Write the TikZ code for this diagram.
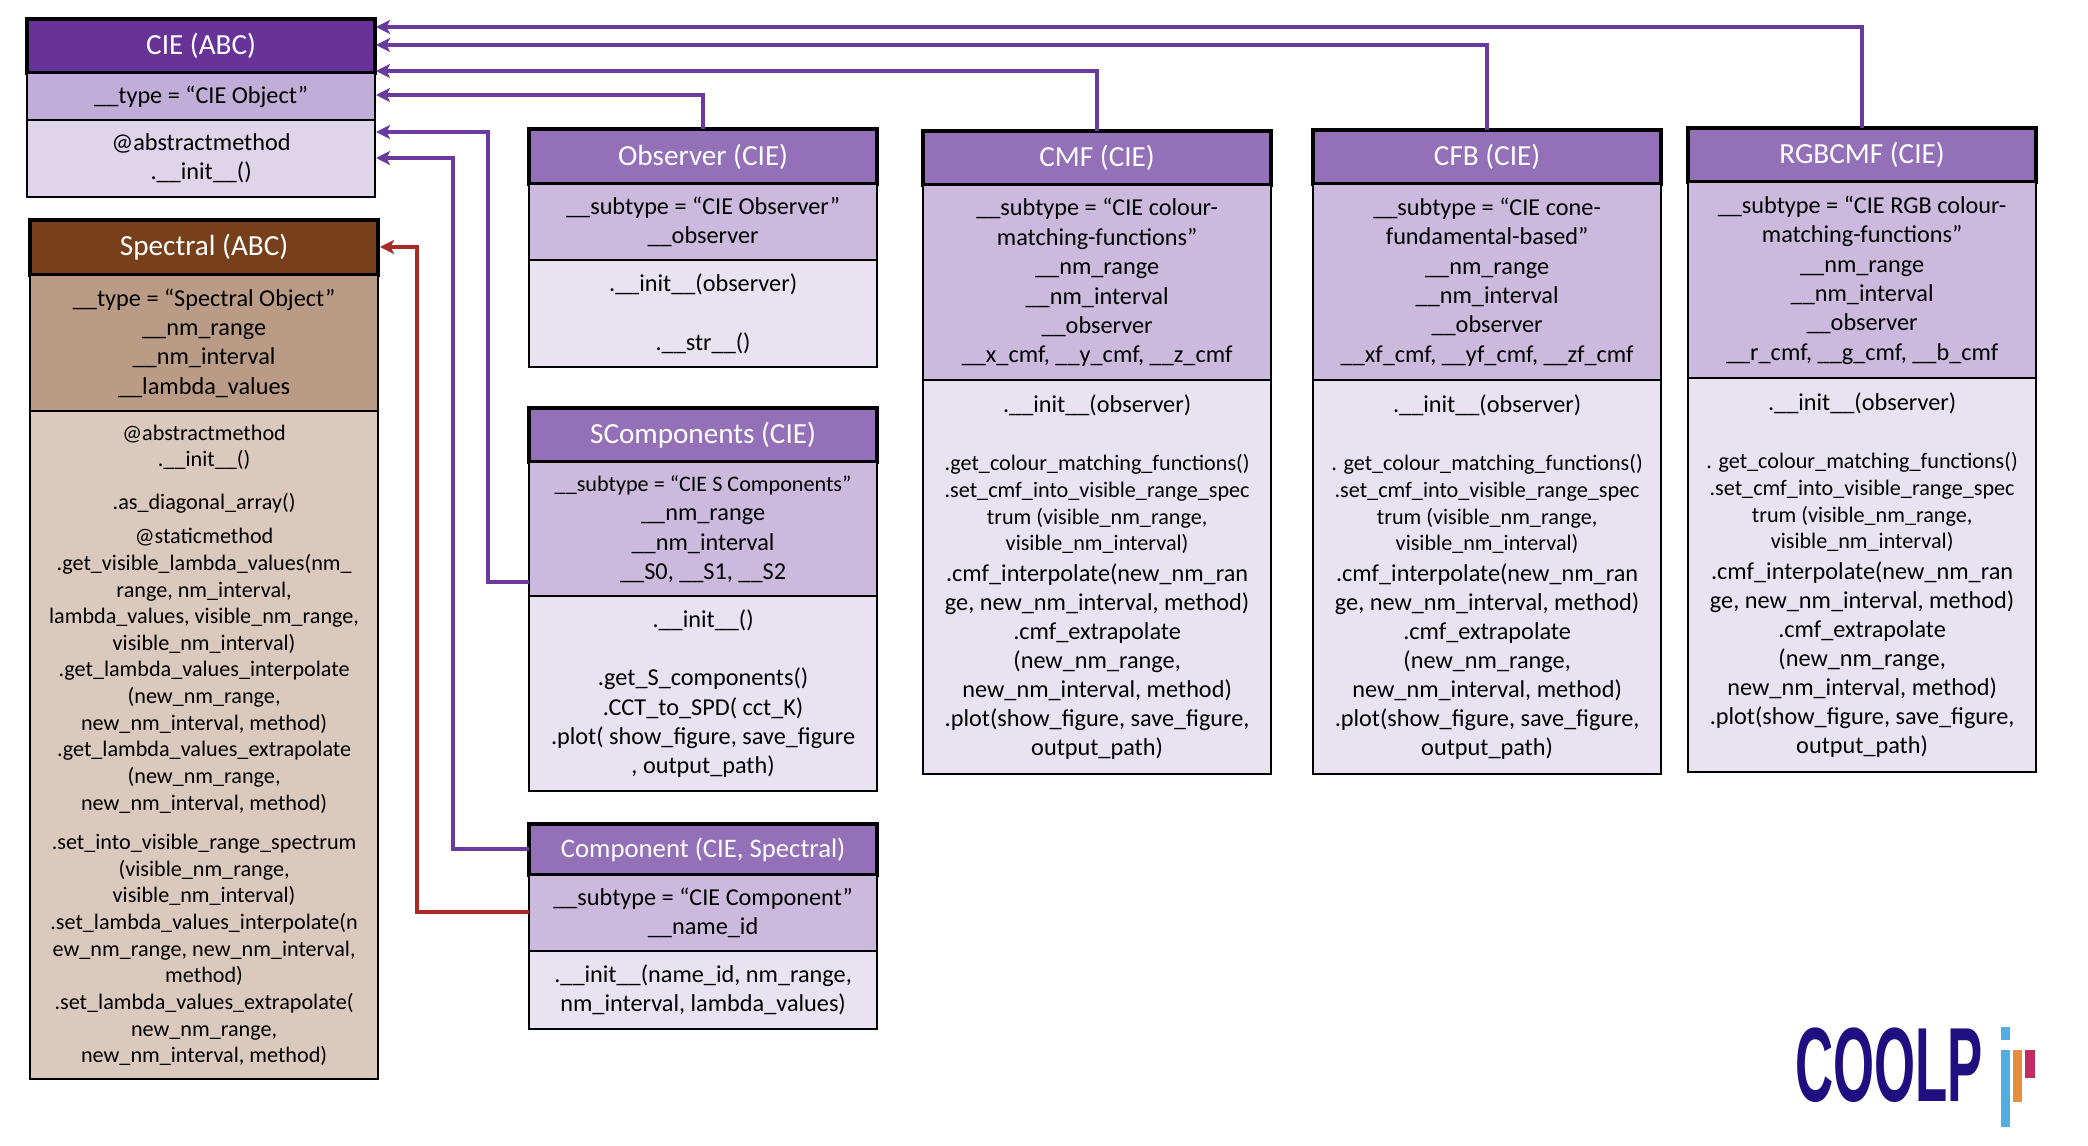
\documentclass[tikz,border=0pt]{standalone}
\usepackage{fontspec}
\usepackage{xcolor}
\usetikzlibrary{arrows.meta}
\setmainfont{Carlito}
\newfontfamily\logofont[FakeStretch=0.5]{Liberation Sans}
\definecolor{ciedark}{HTML}{673399}
\definecolor{ciemid}{HTML}{C1AED8}
\definecolor{cielight}{HTML}{DFD5EA}
\definecolor{subdark}{HTML}{9370B7}
\definecolor{submid}{HTML}{CBBADD}
\definecolor{sublight}{HTML}{E8E2F1}
\definecolor{specdark}{HTML}{78401A}
\definecolor{specmid}{HTML}{BA9C86}
\definecolor{speclight}{HTML}{DAC9BC}
\definecolor{linkpurple}{HTML}{6B3A9E}
\definecolor{linkred}{HTML}{A82B24}
\definecolor{logonavy}{HTML}{1F0F80}
\definecolor{logoblue}{HTML}{52AEE0}
\definecolor{logoorange}{HTML}{E58E3C}
\definecolor{logopink}{HTML}{C22C63}
\tikzset{
    compart/.style={rectangle,draw=black,line width=0.6pt,anchor=north west,inner sep=0pt,outer sep=0pt,
        minimum width=3.48cm,align=center,font=\fontsize{6.9}{8.35}\selectfont},
    headbox/.style={compart,line width=1pt,text=white,font=\fontsize{8.3}{10}\selectfont},
    cmfbox/.style={compart,fill=sublight,minimum height=3.94cm,font=\fontsize{6.9}{8.27}\selectfont},
    cielink/.style={draw=linkpurple,line width=1.15pt,->},
    speclink/.style={draw=linkred,line width=1.15pt,->},
}
\newcommand{\smalltxt}{\fontsize{6.3}{7.57}\selectfont}
\newcommand{\cmfmethods}[1]{.\_\_init\_\_(observer)\\[8.4pt]
    \smalltxt #1get\_colour\_matching\_functions()\\[-0.7pt]
    \smalltxt .set\_cmf\_into\_visible\_range\_spec\\[-0.7pt]
    \smalltxt trum (visible\_nm\_range,\\[-0.7pt]
    \smalltxt visible\_nm\_interval)\\[0.4pt]
    .cmf\_interpolate(new\_nm\_ran\\
    ge, new\_nm\_interval, method)\\
    .cmf\_extrapolate\\
    (new\_nm\_range,\\
    new\_nm\_interval, method)\\
    .plot(show\_figure, save\_figure,\\
    output\_path)}
\begin{document}
\begin{tikzpicture}[x=0.01cm,y=-0.01cm,>={Stealth[length=4pt,width=4pt,inset=1pt]}]
    \useasboundingbox (0,0) rectangle (2088,1146);
    % base classes
    \node[headbox,fill=ciedark,minimum height=0.54cm] (ciehead) at (27,19) {CIE (ABC)};
    \node[compart,fill=ciemid,minimum height=0.47cm] (ciesec) at (27,73) {\_\_type = “CIE Object”};
    \node[compart,fill=cielight,minimum height=0.77cm] (ciebody) at (27,120) {@abstractmethod\\.\_\_init\_\_()};
    \node[headbox,fill=specdark,minimum height=0.55cm] (spechead) at (30,220) {Spectral (ABC)};
    \node[compart,fill=specmid,minimum height=1.36cm] (specsec) at (30,275)
        {\_\_type = “Spectral Object”\\\_\_nm\_range\\\_\_nm\_interval\\\_\_lambda\_values};
    \node[compart,fill=speclight,minimum height=6.68cm,font=\fontsize{6.3}{7.57}\selectfont] (specbody) at (30,411)
        {@abstractmethod\\.\_\_init\_\_()\\[4.5pt]
        .as\_diagonal\_array()\\[2.3pt]
        @staticmethod\\
        .get\_visible\_lambda\_values(nm\_\\
        range, nm\_interval,\\
        lambda\_values, visible\_nm\_range,\\
        visible\_nm\_interval)\\
        .get\_lambda\_values\_interpolate\\
        (new\_nm\_range,\\
        new\_nm\_interval, method)\\
        .get\_lambda\_values\_extrapolate\\
        (new\_nm\_range,\\
        new\_nm\_interval, method)\\[3.7pt]
        .set\_into\_visible\_range\_spectrum\\
        (visible\_nm\_range,\\
        visible\_nm\_interval)\\
        .set\_lambda\_values\_interpolate(n\\
        ew\_nm\_range, new\_nm\_interval,\\
        method)\\
        .set\_lambda\_values\_extrapolate(\\
        new\_nm\_range,\\
        new\_nm\_interval, method)};
    % middle column
    \node[headbox,fill=subdark,minimum height=0.55cm] (obshead) at (529,129) {Observer (CIE)};
    \node[compart,fill=submid,minimum height=0.76cm] (obssec) at (529,184) {\_\_subtype = “CIE Observer”\\\_\_observer};
    \node[compart,fill=sublight,minimum height=1.07cm] (obsbody) at (529,260) {.\_\_init\_\_(observer)\\[\baselineskip].\_\_str\_\_()};
    \node[headbox,fill=subdark,minimum height=0.54cm] (scomphead) at (529,408) {SComponents (CIE)};
    \node[compart,fill=submid,minimum height=1.34cm] (scompsec) at (529,462)
        {{\fontsize{6.3}{8.2}\selectfont\_\_subtype = “CIE S Components”}\\\_\_nm\_range\\\_\_nm\_interval\\\_\_S0, \_\_S1, \_\_S2};
    \node[compart,fill=sublight,minimum height=1.95cm] (scompbody) at (529,596)
        {.\_\_init\_\_()\\[\baselineskip].get\_S\_components()\\.CCT\_to\_SPD( cct\_K)\\.plot( show\_figure, save\_figure\\, output\_path)};
    \node[headbox,fill=subdark,minimum height=0.51cm,font=\fontsize{7.6}{9}\selectfont] (comphead) at (529,824) {Component (CIE, Spectral)};
    \node[compart,fill=submid,minimum height=0.76cm] (compsec) at (529,875) {\_\_subtype = “CIE Component”\\\_\_name\_id};
    \node[compart,fill=sublight,minimum height=0.78cm] (compbody) at (529,951) {.\_\_init\_\_(name\_id, nm\_range,\\nm\_interval, lambda\_values)};
    % colour matching classes
    \node[headbox,fill=subdark,minimum height=0.54cm] (cmfhead) at (923,131) {CMF (CIE)};
    \node[compart,fill=submid,minimum height=1.95cm] (cmfsec) at (923,185)
        {\_\_subtype = “CIE colour-\\matching-functions”\\\_\_nm\_range\\\_\_nm\_interval\\\_\_observer\\\_\_x\_cmf, \_\_y\_cmf, \_\_z\_cmf};
    \node[cmfbox] (cmfbody) at (923,380) {\cmfmethods{.}};
    \node[headbox,fill=subdark,minimum height=0.54cm] (cfbhead) at (1313,130) {CFB (CIE)};
    \node[compart,fill=submid,minimum height=1.96cm] (cfbsec) at (1313,184)
        {\_\_subtype = “CIE cone-\\fundamental-based”\\\_\_nm\_range\\\_\_nm\_interval\\\_\_observer\\\_\_xf\_cmf, \_\_yf\_cmf, \_\_zf\_cmf};
    \node[cmfbox] (cfbbody) at (1313,380) {\cmfmethods{. }};
    \node[headbox,fill=subdark,minimum height=0.54cm] (rgbhead) at (1688,128) {RGBCMF (CIE)};
    \node[compart,fill=submid,minimum height=1.96cm] (rgbsec) at (1688,182)
        {\_\_subtype = “CIE RGB colour-\\matching-functions”\\\_\_nm\_range\\\_\_nm\_interval\\\_\_observer\\\_\_r\_cmf, \_\_g\_cmf, \_\_b\_cmf};
    \node[cmfbox] (rgbbody) at (1688,378) {\cmfmethods{. }};
    % where the links land and turn
    \coordinate (inrgb) at (376,27);
    \coordinate (incfb) at (376,45);
    \coordinate (incmf) at (376,71);
    \coordinate (inobs) at (376,95);
    \coordinate (inscomp) at (376,132);
    \coordinate (incomp) at (376,158);
    \coordinate (inspec) at (380,247);
    \coordinate (outscomp) at (529,582);
    \coordinate (outcomp) at (529,849);
    \coordinate (outspec) at (529,912);
    \coordinate (turnscomp) at (488,132);
    \coordinate (turncomp) at (453,158);
    \coordinate (turnspec) at (417,247);
    \draw[cielink] (rgbhead.north) |- (inrgb);
    \draw[cielink] (cfbhead.north) |- (incfb);
    \draw[cielink] (cmfhead.north) |- (incmf);
    \draw[cielink] (obshead.north) |- (inobs);
    \draw[cielink] (outscomp) -| (turnscomp) -- (inscomp);
    \draw[cielink] (outcomp) -| (turncomp) -- (incomp);
    \draw[speclink] (outspec) -| (turnspec) -- (inspec);
    % logo
    \node[inner sep=0pt,text=logonavy,font=\fontsize{30}{30}\logofont\bfseries] (logotext) at (1889,1065) {COOLP};
    \fill[logoblue] (2001,1027) rectangle (2010,1040);
    \fill[logoblue] (2001,1050) rectangle (2010,1127);
    \fill[logoorange] (2013,1050) rectangle (2022,1102);
    \fill[logopink] (2025,1050) rectangle (2035,1078);
\end{tikzpicture}
\end{document}
